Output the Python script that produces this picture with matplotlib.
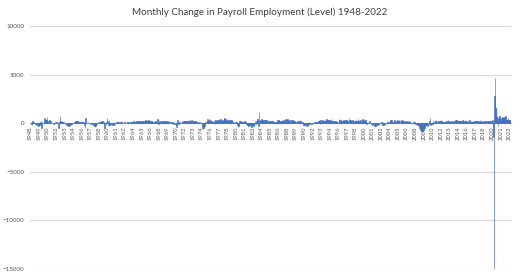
import numpy as np
import matplotlib.pyplot as plt

# monthly change in total nonfarm payroll employment, thousands, Jan..Dec
years = list(range(1948, 2023))
monthly_change = [
    [20, 150, -80, -170, 220, 150, 120, 60, 40, -30, -60, -40],            # 1948
    [-250, -180, -100, -240, -190, -220, -140, 90, 30, -460, 240, 60],     # 1949
    [-20, -110, 570, 320, 340, 350, 300, 620, 230, 250, 60, 180],          # 1950
    [320, 200, 230, 50, 20, 10, 20, -30, -20, 40, 80, 120],                # 1951
    [20, 140, 30, 60, 110, -520, 100, 760, 200, 160, 110, 210],            # 1952
    [120, 90, 80, 20, 30, -40, 20, -140, -120, -180, -330, -260],          # 1953
    [-200, -140, -230, -100, -150, -50, -100, 30, 60, 30, 120, 110],       # 1954
    [190, 170, 200, 240, 220, 190, 170, 120, 110, 140, 120, 160],          # 1955
    [120, 90, 60, 90, 60, -150, -480, 580, 80, 70, 10, 40],                # 1956
    [80, 70, 10, -20, -40, 10, -10, -60, -90, -130, -190, -110],           # 1957
    [-300, -360, -290, -220, -70, 30, 60, 140, 160, 40, 220, 120],         # 1958
    [120, 190, 240, 260, 170, 100, -60, -490, -20, -130, 100, 500],        # 1959
    [210, -20, -170, 310, -130, -100, -80, -40, -90, -80, -190, -200],     # 1960
    [-50, -80, 30, 20, 110, 150, 100, 120, 70, 110, 140, 20],              # 1961
    [90, 160, 140, 240, 60, 20, 30, 40, 100, -20, 70, 40],                 # 1962
    [50, 140, 90, 150, 80, 60, 100, 110, 120, 120, 40, 150],               # 1963
    [40, 250, 100, 150, 70, 130, 200, 140, 200, 50, 230, 210],             # 1964
    [190, 210, 180, 270, 230, 200, 240, 240, 230, 200, 230, 310],          # 1965
    [220, 280, 290, 270, 230, 300, 190, 200, 130, 220, 230, 210],          # 1966
    [130, 60, 100, 60, 140, 120, 220, 190, 70, 170, 400, 220],             # 1967
    [-70, 370, 160, 220, 170, 170, 160, 190, 140, 190, 220, 210],          # 1968
    [260, 270, 230, 170, 210, 240, 160, 160, 30, 200, 80, 150],            # 1969
    [60, 120, 100, -90, -120, -90, 50, -80, -70, -410, -10, 330],          # 1970
    [20, -30, 50, 150, 150, 60, 60, 40, 190, 80, 190, 220],                # 1971
    [240, 200, 260, 240, 260, 210, 110, 300, 180, 340, 260, 220],          # 1972
    [230, 370, 260, 160, 180, 260, 120, 230, 160, 250, 210, 100],          # 1973
    [130, 110, 20, 80, 110, 70, 60, -40, -10, -50, -440, -600],            # 1974
    [-510, -380, -330, -20, 160, 10, 200, 390, 200, 220, 230, 330],        # 1975
    [480, 250, 250, 260, 70, 130, 180, 140, 220, -40, 290, 270],           # 1976
    [190, 270, 380, 340, 360, 390, 270, 240, 430, 260, 370, 270],          # 1977
    [220, 370, 470, 500, 340, 410, 230, 230, 260, 350, 460, 320],          # 1978
    [220, 330, 350, -30, 380, 250, 170, 170, 50, 150, 60, 150],            # 1979
    [140, 120, 80, -170, -430, -300, -310, 220, 110, 260, 240, 170],       # 1980
    [100, 90, 110, 100, 20, 190, 110, -40, -70, -90, -190, -270],          # 1981
    [-320, -20, -130, -280, -40, -240, -340, -160, -180, -280, -120, 0],   # 1982
    [220, -80, 170, 280, 280, 420, 420, -310, 1110, 270, 350, 360],        # 1983
    [460, 480, 280, 360, 350, 370, 310, 240, 310, 290, 350, 130],          # 1984
    [260, 130, 350, 200, 280, 140, 200, 190, 200, 190, 210, 170],          # 1985
    [130, 110, 90, 180, 130, -100, 300, 120, 340, 240, 200, 200],          # 1986
    [170, 230, 250, 340, 230, 170, 350, 170, 240, 490, 230, 290],          # 1987
    [90, 450, 260, 250, 220, 370, 210, 130, 330, 270, 340, 290],           # 1988
    [260, 270, 200, 170, 120, 120, 40, 50, 250, 110, 280, 100],            # 1989
    [360, 240, 190, 40, 170, 120, -50, -220, -10, -160, -140, -70],        # 1990
    [-80, -320, -160, -240, -80, 90, -60, -30, 30, 20, -90, 40],           # 1991
    [60, -70, 70, 160, 120, 80, 50, 120, 40, 160, 100, 220],               # 1992
    [310, 250, -50, 300, 260, 170, 300, 150, 240, 270, 260, 300],          # 1993
    [270, 210, 460, 350, 330, 310, 380, 240, 350, 210, 410, 280],          # 1994
    [330, 220, 220, 160, -20, 240, 10, 250, 250, 90, 140, 110],            # 1995
    [-20, 450, 290, 170, 340, 240, 260, 150, 210, 240, 290, 190],          # 1996
    [230, 310, 320, 290, 250, 260, 280, -20, 510, 340, 310, 300],          # 1997
    [260, 150, 130, 360, 380, 200, 100, 340, 210, 200, 280, 340],          # 1998
    [220, 450, 100, 360, 200, 260, 310, 170, 190, 390, 270, 290],          # 1999
    [250, 110, 470, 290, 220, -50, 160, 10, 120, -10, 200, 110],           # 2000
    [-20, 70, -40, -280, -50, -130, -20, -150, -240, -330, -290, -170],    # 2001
    [-130, -140, -20, -80, 0, 50, -100, -10, -60, 120, 20, -160],          # 2002
    [90, -160, -210, -50, -10, -30, 30, -40, 110, 190, 10, 120],           # 2003
    [150, 40, 330, 250, 310, 80, 40, 120, 160, 350, 60, 130],              # 2004
    [140, 240, 140, 360, 170, 240, 370, 200, 70, 80, 340, 160],            # 2005
    [280, 310, 280, 180, 20, 80, 210, 180, 160, 0, 210, 170],              # 2006
    [240, 90, 190, 70, 140, 70, -30, -20, 80, 80, 110, 100],               # 2007
    [10, -80, -80, -210, -190, -170, -210, -270, -460, -480, -730, -710],  # 2008
    [-790, -700, -800, -700, -350, -470, -330, -220, -220, -200, -10, -280],  # 2009
    [20, -50, 160, 250, 520, -130, -80, -10, -40, 260, 130, 90],           # 2010
    [40, 220, 240, 310, 100, 230, 70, 110, 220, 190, 130, 210],            # 2011
    [360, 230, 240, 80, 120, 80, 160, 150, 160, 140, 160, 230],            # 2012
    [190, 300, 140, 190, 220, 180, 100, 270, 170, 210, 270, 40],           # 2013
    [190, 170, 270, 310, 210, 330, 230, 170, 270, 200, 300, 260],          # 2014
    [190, 270, 80, 250, 340, 170, 280, 140, 160, 330, 220, 280],           # 2015
    [120, 230, 210, 180, 50, 270, 290, 180, 270, 140, 190, 160],           # 2016
    [250, 180, 120, 200, 130, 250, 190, 210, 20, 260, 230, 200],           # 2017
    [180, 320, 170, 200, 270, 250, 170, 280, 120, 260, 200, 260],          # 2018
    [270, 1, 200, 230, 85, 190, 190, 220, 200, 190, 230, 130],             # 2019
    [270, 290, -1400, -20490, 2790, 4620, 1590, 1580, 720, 680, 260, -270],  # 2020
    [520, 710, 700, 270, 450, 560, 690, 520, 420, 670, 650, 590],          # 2021
    [500, 710, 390, 370, 380, 290, 540, 350, 350, 320, 260, 220],          # 2022
]

values = np.concatenate([np.array(r) for r in monthly_change])
month_year = np.repeat(years, 12)
x = np.arange(len(values))

plt.rcParams['font.family'] = ['Lato', 'DejaVu Sans']

fig = plt.figure(figsize=(5.2, 2.72), dpi=100)
ax = fig.add_axes([0.058, 0.011, 0.925, 0.893])

for side in ['top', 'right', 'left']:
    ax.spines[side].set_visible(False)
ax.spines['bottom'].set_position(('data', 0))
ax.spines['bottom'].set_color('#D9D9D9')
ax.spines['bottom'].set_linewidth(0.8)
ax.spines['bottom'].set_zorder(0)

ax.bar(x, values, width=1.0, color='#4070C0', edgecolor='#4070C0', linewidth=0.45)

ax.set_xlim(-0.5, len(values) - 0.5)
ax.set_ylim(-15000, 10000)
ax.set_yticks(np.arange(-15000, 10001, 5000))
ax.yaxis.grid(True, color='#D9D9D9', linewidth=0.8)
ax.set_axisbelow(True)

ticks = np.arange(0, len(values), 16)
ax.set_xticks(ticks)
ax.set_xticklabels([str(month_year[t]) for t in ticks], rotation=90)

ax.tick_params(axis='x', length=0, labelsize=4.2, labelcolor='#595959', pad=2)
ax.tick_params(axis='y', length=0, labelsize=4.5, labelcolor='#595959', pad=4)

fig.text(0.5, 0.955, 'Monthly Change in Payroll Employment (Level) 1948-2022',
         ha='center', va='center', fontsize=7.1, color='#404040')

fig.savefig('out.png', dpi=100)
